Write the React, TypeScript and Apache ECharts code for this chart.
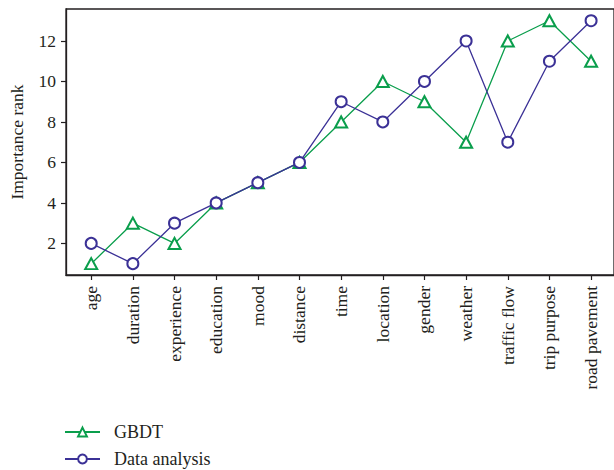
import React, { useEffect, useRef } from "react";
import * as echarts from "echarts";

const categories = [
  "age",
  "duration",
  "experience",
  "education",
  "mood",
  "distance",
  "time",
  "location",
  "gender",
  "weather",
  "traffic flow",
  "trip purpose",
  "road pavement",
];
const gbdt = [1, 3, 2, 4, 5, 6, 8, 10, 9, 7, 12, 13, 11];
const dataAnalysis = [2, 1, 3, 4, 5, 6, 9, 8, 10, 12, 7, 11, 13];
const yTicks = [2, 4, 6, 8, 10, 12];

const GREEN = "#0a9e4c";
const PURPLE = "#3b3196";
const INK = "#231f20";
const FONT = "Liberation Serif";
const FS = 17.5;

export default function App() {
  const ref = useRef<HTMLDivElement>(null);
  useEffect(() => {
    if (!ref.current) return;
    const chart = echarts.init(ref.current, undefined, { renderer: "svg" });
    const idx = categories.map((_, i) => i);
    const legendBase = {
      orient: "vertical",
      left: 62,
      padding: 2,
      itemWidth: 35,
      itemHeight: 11,
      textStyle: { fontFamily: FONT, fontSize: 18, color: INK, padding: [0, 0, 0, 9] },
    };
    chart.setOption({
      animation: false,
      backgroundColor: "#ffffff",
      textStyle: { fontFamily: FONT, color: INK },
      grid: {
        left: 64,
        top: 9,
        right: -1,
        bottom: 195,
        show: true,
        borderColor: INK,
        borderWidth: 1.3,
        containLabel: false,
      },
      legend: [
        { ...legendBase, top: 421, data: ["GBDT"] },
        { ...legendBase, top: 448, data: ["Data analysis"] },
      ],
      xAxis: {
        type: "value",
        min: -0.605,
        max: 12.55,
        splitLine: { show: false },
        axisLine: { show: true, onZero: false, lineStyle: { color: INK, width: 1.3 } },
        axisTick: {
          show: true,
          length: 5,
          lineStyle: { color: INK, width: 1.2 },
          customValues: idx,
        },
        axisLabel: {
          customValues: idx,
          rotate: 90,
          margin: 11,
          fontFamily: FONT,
          fontSize: FS,
          color: INK,
          formatter: (v: number) => categories[Math.round(v)] ?? "",
        },
      },
      yAxis: {
        type: "value",
        min: 0.44,
        max: 13.58,
        name: "Importance rank",
        nameLocation: "middle",
        nameGap: 40,
        nameTextStyle: { fontFamily: FONT, fontSize: FS, color: INK },
        splitLine: { show: false },
        axisLine: { show: true, onZero: false, lineStyle: { color: INK, width: 1.3 } },
        axisTick: {
          show: true,
          length: 5,
          lineStyle: { color: INK, width: 1.2 },
          customValues: yTicks,
        },
        axisLabel: {
          customValues: yTicks,
          margin: 10,
          fontFamily: FONT,
          fontSize: FS,
          color: INK,
        },
      },
      series: [
        {
          name: "GBDT",
          type: "line",
          data: gbdt.map((v, i) => [i, v]),
          symbol: "emptyTriangle",
          symbolSize: [12, 11],
          color: GREEN,
          lineStyle: { color: GREEN, width: 1.3 },
          itemStyle: { color: GREEN, borderColor: GREEN, borderWidth: 1.4 },
          z: 2,
        },
        {
          name: "Data analysis",
          type: "line",
          data: dataAnalysis.map((v, i) => [i, v]),
          symbol: "emptyCircle",
          symbolSize: 11,
          color: PURPLE,
          lineStyle: { color: PURPLE, width: 1.3 },
          itemStyle: { color: PURPLE, borderColor: PURPLE, borderWidth: 1.4 },
          z: 3,
        },
      ],
    });
    return () => chart.dispose();
  }, []);
  return (
    <div
      ref={ref}
      style={{ position: "fixed", left: 0, top: 0, width: 614, height: 470, background: "#fff" }}
    />
  );
}
